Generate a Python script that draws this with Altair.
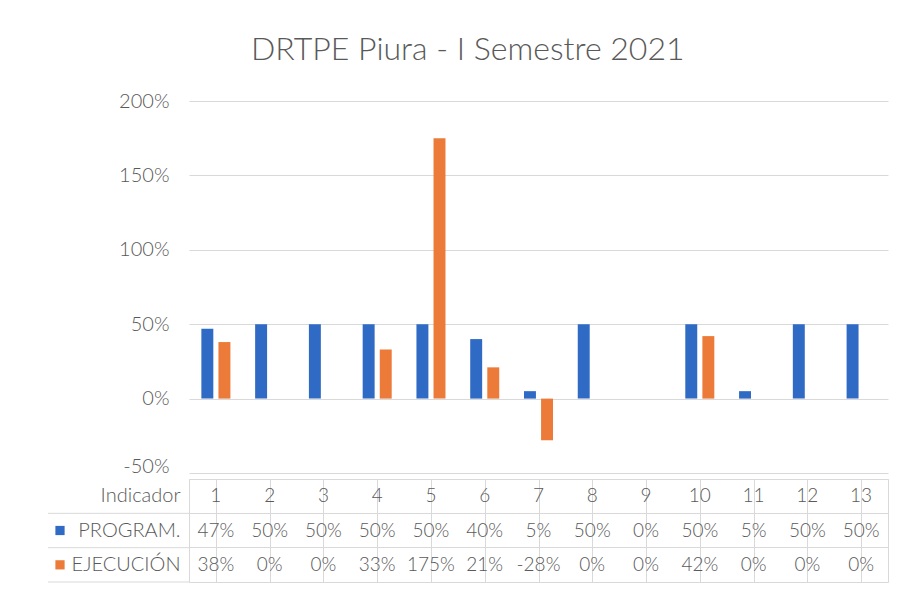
import altair as alt
import pandas as pd

# ---- data ----
indicators = [str(i) for i in range(1, 14)]
series = ["PROGRAM.", "EJECUCIÓN"]
program = [0.47, 0.50, 0.50, 0.50, 0.50, 0.40, 0.05, 0.50, 0.00, 0.50, 0.05, 0.50, 0.50]
ejecucion = [0.38, 0.00, 0.00, 0.33, 1.75, 0.21, -0.28, 0.00, 0.00, 0.42, 0.00, 0.00, 0.00]
colors = ["#2F6BC4", "#EC7B3A"]
y_ticks = [-0.5, 0, 0.5, 1.0, 1.5, 2.0]
title_text = "DRTPE Piura - I Semestre 2021"
header_label = "Indicador"

rows = []
for s, vals in zip(series, [program, ejecucion]):
    for ind, v in zip(indicators, vals):
        rows.append({"indicador": ind, "row": s, "valor": v,
                     "txt": f"{round(v * 100)}%"})
df = pd.DataFrame(rows)
header_df = pd.DataFrame({"indicador": indicators, "row": header_label, "txt": indicators})
row_order = [header_label] + series
rows_df = pd.DataFrame({"row": row_order})
series_df = pd.DataFrame({"row": series})

FONT = "Lato"
WEIGHT = 300
GRAY = "#595959"
GRID = "#d9d9d9"
W = 699
color_scale = alt.Scale(domain=series, range=colors)

# ---- bar panel ----
bars = alt.Chart(df).mark_bar().encode(
    x=alt.X("indicador:N", sort=indicators,
            scale=alt.Scale(paddingInner=0.46, paddingOuter=0.23), axis=None),
    xOffset=alt.XOffset("row:N", sort=series, scale=alt.Scale(paddingInner=0.3)),
    y=alt.Y("valor:Q", scale=alt.Scale(domain=[-0.5, 2.0], nice=False),
            axis=alt.Axis(values=y_ticks, format=".0%", title=None, labelFontSize=20,
                          labelExpr="replace(datum.label, '\u2212', '-')",
                          labelOffset=alt.condition("datum.value == -0.5", alt.value(-7), alt.value(0)),
                          labelColor=GRAY, labelFont=FONT, labelFontWeight=WEIGHT,
                          gridColor=GRID, domain=False, ticks=False, labelPadding=20)),
    color=alt.Color("row:N", scale=color_scale, legend=None),
).properties(width=W, height=372, view=alt.ViewBackground(stroke=None))

# ---- data table panel ----
tx = alt.X("indicador:N", sort=indicators,
           scale=alt.Scale(paddingInner=0, paddingOuter=0),
           axis=alt.Axis(bandPosition=0, grid=True, gridColor=GRID, labels=False,
                         ticks=False, domain=False, title=None))
ty = alt.Y("row:N", sort=row_order,
           scale=alt.Scale(domain=row_order, paddingInner=0, paddingOuter=0),
           axis=alt.Axis(bandPosition=0, grid=True, gridColor=GRID, labelFontSize=20,
                         labelColor=GRAY, labelFont=FONT, labelFontWeight=WEIGHT,
                         labelPadding=9, ticks=False, domain=False, title=None))

header_text = alt.Chart(header_df).mark_text(
    fontSize=19, color=GRAY, font=FONT, fontWeight=WEIGHT).encode(x=tx, y=ty, text="txt:N")
value_text = alt.Chart(df).mark_text(
    fontSize=19, color=GRAY, font=FONT, fontWeight=WEIGHT).encode(x=tx, y=ty, text="txt:N")
keys = alt.Chart(series_df).mark_square(size=85, opacity=1).encode(
    x=alt.value(-129), y=alt.Y("row:N", sort=row_order),
    color=alt.Color("row:N", scale=color_scale, legend=None))
row_lines = alt.Chart(rows_df).mark_rule(color=GRID, strokeWidth=1).encode(
    x=alt.value(-141), x2=alt.value(0),
    y=alt.Y("row:N", sort=row_order, bandPosition=1))

table = alt.layer(header_text, value_text, keys, row_lines).properties(
    width=W, height=103, view=alt.ViewBackground(stroke=GRID))

chart = alt.vconcat(bars, table, spacing=2).properties(
    title=alt.TitleParams(title_text, fontSize=32, color=GRAY, font=FONT,
                          fontWeight=WEIGHT, anchor="middle", offset=24),
    padding={"left": 39, "top": 26, "right": 10, "bottom": 5},
    background="white",
)

chart.save("out.html", embed_options={"renderer": "svg", "actions": False})
